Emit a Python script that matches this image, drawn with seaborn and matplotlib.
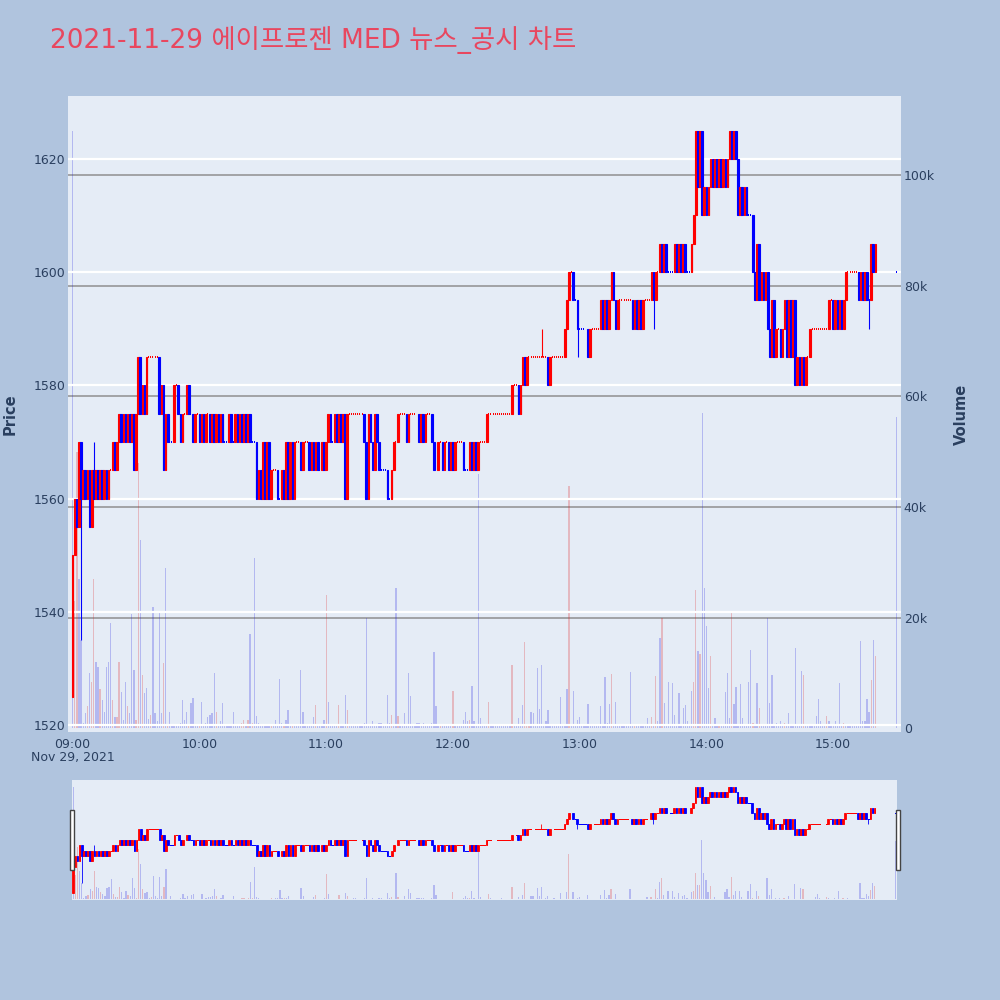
import matplotlib
matplotlib.use("Agg")
import matplotlib.pyplot as plt
from matplotlib.patches import Rectangle
import pandas as pd
import seaborn as sns

# 1-minute closes, 2021-11-29, per hour (first open 1525)
first_open = 1525
close_09 = [1550, 1560, 1555, 1570, 1560, 1565, 1560, 1565, 1555, 1565,
            1560, 1565, 1560, 1565, 1560, 1565, 1560, 1565, 1565, 1570,
            1565, 1570, 1575, 1570, 1575, 1570, 1575, 1570, 1575, 1565,
            1575, 1585, 1575, 1580, 1575, 1585, 1585, 1585, 1585, 1585,
            1585, 1575, 1580, 1565, 1575, 1570, 1570, 1570, 1580, 1580,
            1575, 1570, 1575, 1575, 1580, 1575, 1575, 1570, 1575, 1575]
close_10 = [1570, 1575, 1570, 1575, 1575, 1570, 1575, 1570, 1575, 1570,
            1575, 1570, 1570, 1570, 1575, 1570, 1570, 1575, 1570, 1575,
            1570, 1575, 1570, 1575, 1570, 1570, 1570, 1560, 1565, 1560,
            1570, 1560, 1570, 1560, 1565, 1565, 1565, 1560, 1560, 1565,
            1560, 1570, 1560, 1570, 1560, 1570, 1570, 1570, 1565, 1570,
            1570, 1570, 1565, 1570, 1565, 1570, 1565, 1565, 1570, 1565]
close_11 = [1570, 1575, 1570, 1570, 1575, 1570, 1575, 1570, 1575, 1560,
            1575, 1575, 1575, 1575, 1575, 1575, 1575, 1575, 1570, 1560,
            1575, 1570, 1565, 1575, 1570, 1565, 1565, 1565, 1565, 1560,
            1560, 1565, 1570, 1570, 1575, 1575, 1575, 1575, 1570, 1575,
            1575, 1575, 1575, 1575, 1570, 1575, 1570, 1575, 1575, 1575,
            1570, 1565, 1565, 1570, 1570, 1565, 1570, 1570, 1565, 1570]
close_12 = [1565, 1570, 1570, 1570, 1570, 1565, 1565, 1565, 1570, 1565,
            1570, 1565, 1570, 1570, 1570, 1570, 1575, 1575, 1575, 1575,
            1575, 1575, 1575, 1575, 1575, 1575, 1575, 1575, 1580, 1580,
            1580, 1575, 1580, 1585, 1580, 1585, 1585, 1585, 1585, 1585,
            1585, 1585, 1585, 1585, 1585, 1580, 1585, 1585, 1585, 1585,
            1585, 1585, 1585, 1590, 1595, 1600, 1600, 1595, 1595, 1590]
close_13 = [1590, 1590, 1590, 1590, 1585, 1590, 1590, 1590, 1590, 1590,
            1595, 1590, 1595, 1590, 1595, 1600, 1595, 1590, 1595, 1595,
            1595, 1595, 1595, 1595, 1595, 1590, 1595, 1590, 1595, 1590,
            1595, 1595, 1595, 1595, 1600, 1595, 1600, 1600, 1605, 1600,
            1605, 1600, 1600, 1600, 1600, 1605, 1600, 1605, 1600, 1605,
            1600, 1600, 1600, 1605, 1610, 1625, 1615, 1625, 1610, 1615]
close_14 = [1610, 1615, 1620, 1615, 1620, 1615, 1620, 1615, 1620, 1615,
            1620, 1625, 1620, 1625, 1620, 1610, 1615, 1610, 1615, 1610,
            1610, 1610, 1600, 1595, 1605, 1595, 1600, 1595, 1600, 1590,
            1585, 1595, 1585, 1590, 1590, 1585, 1590, 1595, 1585, 1595,
            1585, 1595, 1580, 1585, 1580, 1585, 1580, 1585, 1585, 1590,
            1590, 1590, 1590, 1590, 1590, 1590, 1590, 1590, 1595, 1595]
close_15 = [1590, 1595, 1590, 1595, 1590, 1595, 1600, 1600, 1600, 1600,
            1600, 1600, 1595, 1600, 1595, 1600, 1595, 1595, 1605, 1600, 1605]
auction_minute = 390      # 15:30 closing auction
auction_price = 1600

# wicks reaching past the body
wick_minute = [4, 10, 222, 239, 275, 377]
wick_low = [1535, 1560, 1585, 1585, 1590, 1590]
wick_high = [1570, 1570, 1590, 1595, 1600, 1595]

# volume in thousands of shares, per minute
vol_09 = [108, 23, 50, 27, 16, 1, 2.7, 4, 10, 8.4,
          27, 12, 11, 7, 5, 3, 11, 12, 19, 5,
          2, 2, 12, 6.6, 1.5, 8.4, 4, 2.7, 20.7, 10.5,
          1.5, 48, 34, 9.6, 6.4, 7.2, 1.6, 2.4, 21.9, 2.7,
          1.3, 21, 2.7, 11.8, 29, 0.5, 3, 0.3, 0.5, 0.5,
          0.3, 1, 5, 1.5, 3, 0.5, 4.5, 5.5, 0.5, 0.3]
vol_10 = [0.5, 4.8, 0.5, 1, 2, 2.4, 2.7, 10, 3, 0.3,
          1.3, 4.5, 0.5, 0.3, 0.5, 0.3, 3, 0.5, 0.3, 0.5,
          1, 1.5, 0.3, 1.5, 17, 1, 30.7, 2.2, 1, 0.5,
          0.3, 0.5, 0.5, 0.5, 0.8, 0.3, 1.5, 0.8, 8.8, 1,
          0.8, 1.5, 3.3, 0.3, 0.7, 0.3, 0.3, 0.3, 10.5, 3,
          0.3, 0.3, 0.3, 0.3, 2, 4.2, 0.3, 0.5, 0.3, 1.5]
vol_11 = [24, 4.8, 0.3, 0.5, 0.3, 0.3, 4.2, 0.3, 0.5, 6,
          3.3, 0.5, 0.3, 0.8, 0.8, 0.3, 0.3, 0.3, 1, 20,
          0.5, 0.3, 1.2, 0.5, 0.3, 1, 1, 0.3, 0.3, 6,
          1, 2.4, 0.3, 25.4, 2.2, 0.3, 0.3, 2.8, 0.3, 10,
          5.8, 0.3, 0.3, 1, 1, 0.8, 1, 0.3, 0.3, 0.3,
          1, 13.7, 4, 0.5, 0.3, 0.5, 0.3, 0.5, 0.5, 0.5]
vol_12 = [6.8, 0.5, 0.3, 0.3, 0.3, 1.5, 3, 1.3, 1.5, 7.7,
          1.3, 0.3, 46, 1.8, 0.3, 0.3, 0.3, 4.8, 0.8, 0.3,
          0.3, 0.5, 0.3, 0.8, 0.3, 0.3, 0.3, 0.3, 11.5, 0.3,
          0.5, 1.8, 0.3, 4.2, 15.5, 0.5, 0.5, 3, 2.7, 0.3,
          10.8, 3.4, 11.5, 0.3, 1.3, 3.3, 0.5, 0.3, 0.8, 0.3,
          0.3, 5.7, 0.3, 0.3, 7, 43.8, 0.5, 6.7, 0.5, 1.5]
vol_13 = [2, 0.3, 0.3, 0.3, 4.3, 0.3, 0.3, 0.3, 0.3, 0.3,
          4, 0.3, 9.3, 1, 4.4, 9.8, 0.3, 4.8, 0.3, 0.5,
          0.3, 0.3, 0.3, 0.3, 10.2, 0.3, 0.3, 0.3, 0.5, 0.3,
          0.3, 0.3, 1.9, 0.3, 2, 0.3, 9.5, 1.2, 16.3, 20,
          4.5, 0.5, 8.4, 0.3, 8.2, 2.4, 0.5, 6.3, 0.3, 3.6,
          4.2, 1.3, 0.3, 6.7, 8.4, 25, 14, 13.4, 57, 25.4]
vol_14 = [18.5, 7.2, 13, 0.5, 1.8, 0.3, 0.7, 0.3, 0.3, 6.5,
          10, 1.9, 21, 4.4, 7.5, 0.3, 8, 1.9, 0.5, 0.3,
          8.4, 14.2, 1, 0.3, 8.2, 3.6, 0.5, 0.3, 0.3, 20,
          4.5, 9.6, 0.5, 1, 0.3, 1.2, 0.3, 1, 0.5, 2.7,
          0.3, 0.5, 14.4, 0.3, 0.5, 10.4, 9.6, 0.5, 0.3, 0.3,
          0.3, 0.3, 2.2, 5.3, 1.3, 0.3, 0.3, 2.2, 1.3, 0.3]
vol_15 = [0.3, 1.2, 0.3, 8.2, 0.5, 1, 0.3, 0.8, 0.3, 0.3,
          0.5, 0.3, 0.3, 15.7, 1.3, 1.3, 5.2, 3, 8.7, 16, 13]
auction_vol = 56.3
vol_red_minutes = [1, 2, 7, 9, 10, 13, 19, 21, 22, 26, 30, 31, 33, 37, 43, 45, 55,
                   60, 68, 80, 81, 83, 85, 94, 100, 104, 115,
                   120, 126, 130, 151, 154, 174,
                   180, 188, 197, 208, 214, 215, 216, 235,
                   255, 266, 274, 276, 279, 294, 295, 297,
                   302, 306, 312, 322, 325, 337, 346, 357,
                   365, 378, 380]

title = "2021-11-29 에이프로젠 MED 뉴스_공시 차트"
price_ticks = [1520, 1540, 1560, 1580, 1600, 1620]
vol_ticks = [0, 20, 40, 60, 80, 100]
vol_tick_labels = ["0", "20k", "40k", "60k", "80k", "100k"]
time_ticks = [0, 60, 120, 180, 240, 300, 360]
time_labels = ["09:00", "10:00", "11:00", "12:00", "13:00", "14:00", "15:00"]

# ---- build frames
closes = close_09 + close_10 + close_11 + close_12 + close_13 + close_14 + close_15
candles = pd.DataFrame({"minute": list(range(len(closes))), "close": closes})
candles["open"] = [first_open] + closes[:-1]
candles = pd.concat([candles, pd.DataFrame({"minute": [auction_minute], "close": [auction_price],
                                            "open": [auction_price]})], ignore_index=True)
candles["low"] = candles[["open", "close"]].min(axis=1)
candles["high"] = candles[["open", "close"]].max(axis=1)
for m, lo, hi in zip(wick_minute, wick_low, wick_high):
    candles.loc[candles.minute == m, "low"] = lo
    candles.loc[candles.minute == m, "high"] = hi

# doji keeps direction of the candle before (plotly behaviour)
up = []
prev = True
prev_close = first_open
for o, c in zip(candles.open, candles.close):
    if c > o:
        d = True
    elif c < o:
        d = False
    elif c != prev_close:
        d = c > prev_close
    else:
        d = prev
    up.append(d)
    prev = d
    prev_close = c
candles["up"] = up

vols = vol_09 + vol_10 + vol_11 + vol_12 + vol_13 + vol_14 + vol_15
volume = pd.DataFrame({"minute": list(range(len(vols))) + [auction_minute],
                       "vol": [v * 1000 for v in vols] + [auction_vol * 1000]})
volume["dir"] = ["up" if m in vol_red_minutes else "down" for m in volume.minute]

RED = "#FF0000"
BLUE = "#0000FF"
BG = "#E5ECF6"
PAGE = "#B0C4DE"
TXT = "#2a3f5f"

sns.set_style("white")
plt.rcParams["font.family"] = ["DejaVu Sans", "Noto Sans CJK KR"]


def draw(axp, axv, body_w, lw, doji_w, doji_lw):
    sns.barplot(data=volume, x="minute", y="vol", hue="dir", native_scale=True,
                palette={"up": RED, "down": BLUE}, dodge=False, legend=False,
                errorbar=None, width=0.6, alpha=0.25, linewidth=0, ax=axv)
    for _, r in candles.iterrows():
        col = RED if r.up else BLUE
        if r.high > r.low:
            axp.vlines(r.minute, r.low, r.high, color=col, lw=lw, zorder=3)
        if r.close != r.open:
            axp.bar(r.minute, r.close - r.open, bottom=r.open, width=body_w,
                    color=col, edgecolor=col, linewidth=lw, zorder=4)
        else:
            # flat candle: short tick, looks dotted when repeated
            axp.hlines(r.close, r.minute - doji_w / 2, r.minute + doji_w / 2,
                       color=col, lw=doji_lw, zorder=4, antialiased=False)


fig = plt.figure(figsize=(10, 10), dpi=100, facecolor=PAGE)

# ---- main chart
axv = fig.add_axes([0.068, 0.268, 0.833, 0.636])
axp = axv.twinx()
axv.yaxis.tick_right()
axv.yaxis.set_label_position("right")
axp.yaxis.tick_left()
axp.yaxis.set_label_position("left")
axv.set_facecolor(BG)
axp.set_zorder(axv.get_zorder() + 1)
axp.patch.set_visible(False)

draw(axp, axv, body_w=0.8, lw=0.8, doji_w=0.45, doji_lw=1.2)

xlim = (-2.2, 392.1)
axv.set_xlim(*xlim)
axp.set_xlim(*xlim)
axp.set_ylim(1518.8, 1631.1)
axv.set_ylim(-700, 114300)

for y in price_ticks:
    axp.axhline(y, color="white", lw=1.6, zorder=1)
for v in vol_ticks[1:]:
    axv.axhline(v * 1000, color="#8f8f8f", lw=1.1, zorder=0.5)

axp.set_yticks(price_ticks)
axp.set_yticklabels([str(p) for p in price_ticks], color=TXT, fontsize=9)
axv.set_yticks([v * 1000 for v in vol_ticks])
axv.set_yticklabels(vol_tick_labels, color=TXT, fontsize=9)
axv.set_xticks(time_ticks)
axv.set_xticklabels(time_labels, color=TXT, fontsize=9)
axp.tick_params(axis="y", length=0, pad=2)
axv.tick_params(axis="y", length=0, pad=2)
axv.tick_params(axis="x", length=0, pad=4)
axv.set_xlabel("")
axp.set_ylabel("Price", color=TXT, fontsize=10.5, fontweight="bold", labelpad=11)
axv.set_ylabel("Volume", color=TXT, fontsize=10.5, fontweight="bold", labelpad=14)
axv.grid(False)
axp.grid(False)
for a in (axv, axp):
    for s in a.spines.values():
        s.set_visible(False)

fig.text(0.073, 0.242, "Nov 29, 2021", color=TXT, fontsize=9, ha="center", va="center")

# ---- range slider
sv = fig.add_axes([0.072, 0.10, 0.825, 0.12])
sp = sv.twinx()
sv.set_facecolor(BG)
sp.set_zorder(sv.get_zorder() + 1)
sp.patch.set_visible(False)
draw(sp, sv, body_w=0.8, lw=0.6, doji_w=0.4, doji_lw=0.5)
sv.set_xlim(-0.6, 390.6)
sp.set_xlim(-0.6, 390.6)
sp.set_ylim(1518.8, 1631.1)
sv.set_ylim(-700, 114300)
for a in (sv, sp):
    a.set_xticks([])
    a.set_yticks([])
    a.set_xlabel("")
    a.set_ylabel("")
    for s in a.spines.values():
        s.set_visible(False)

for hx in (0.0695, 0.8955):
    fig.patches.append(Rectangle((hx, 0.13), 0.004, 0.06, transform=fig.transFigure,
                                 facecolor="white", edgecolor="#444444", lw=1.0, zorder=10))

fig.text(0.05, 0.96, title, color="#E8475F", fontsize=19, ha="left", va="center",
         family=["DejaVu Sans", "Noto Sans CJK KR"])

fig.savefig("out.png", dpi=100, facecolor=PAGE)
